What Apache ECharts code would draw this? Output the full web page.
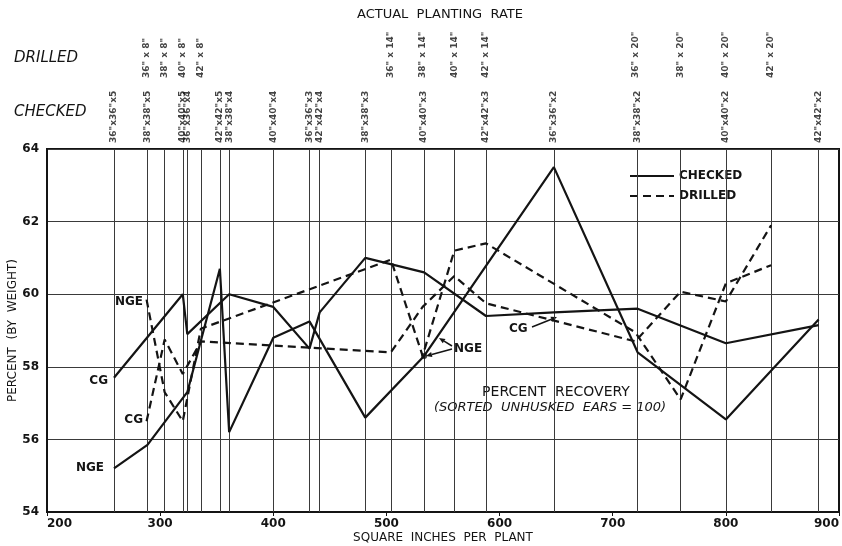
<!DOCTYPE html>
<html>
<head>
<meta charset="utf-8">
<script src="https://cdn.jsdelivr.net/npm/echarts@6/dist/echarts.min.js"></script>
<style>
html,body{margin:0;padding:0;background:#fff;}
#chart{width:842px;height:546px;}
</style>
</head>
<body>
<div id="chart"></div>
<script>
// Planting rates (square inches per plant) and their labels
const checkedX = [259.2, 288.8, 320, 324, 352.8, 361, 400, 432, 441, 481.3, 533.3, 588, 648, 722, 800, 882];
const checkedLabels = ['36"x36"x5','38"x38"x5','40"x40"x5','36"x36"x4','42"x42"x5','38"x38"x4','40"x40"x4','36"x36"x3','42"x42"x4','38"x38"x3','40"x40"x3','42"x42"x3','36"x36"x2','38"x38"x2','40"x40"x2','42"x42"x2'];
const drilledX = [288, 304, 320, 336, 504, 532, 560, 588, 720, 760, 800, 840];
const drilledLabels = ['36" x 8"','38" x 8"','40" x 8"','42" x 8"','36" x 14"','38" x 14"','40" x 14"','42" x 14"','36" x 20"','38" x 20"','40" x 20"','42" x 20"'];

// Percent recovery series
const checkedNGEx = [259.2, 288.8, 324, 352.8, 361, 400, 432, 481.3, 533.3, 648, 722, 800, 882];
const checkedNGEy = [55.2, 55.85, 57.3, 60.7, 56.2, 58.8, 59.25, 56.6, 58.3, 63.5, 58.4, 56.55, 59.3];
const checkedCGx = [259.2, 320, 324, 361, 400, 432, 441, 481.3, 533.3, 588, 648, 722, 800, 882];
const checkedCGy = [57.7, 60.0, 58.9, 60.0, 59.65, 58.5, 59.5, 61.0, 60.6, 59.4, 59.5, 59.6, 58.65, 59.15];
const drilledNGEx = [288, 304, 320, 336, 504, 532, 560, 588, 720, 760, 800, 840];
const drilledNGEy = [59.85, 57.3, 56.5, 59.05, 60.95, 58.3, 61.2, 61.4, 58.95, 57.1, 60.3, 60.8];
const drilledCGx = [288, 304, 320, 336, 504, 532, 560, 588, 720, 760, 800, 840];
const drilledCGy = [56.5, 58.75, 57.8, 58.7, 58.4, 59.65, 60.5, 59.75, 58.7, 60.07, 59.8, 61.9];
const markedPoint = [[533.3, 58.3]];

const xTicks = [200, 900, 100];
const yTicks = [54, 64, 2];

const FONT = 'DejaVu Sans';
const INK = '#141414';

function pairs(xs, ys){ return xs.map((x,i)=>[x, ys[i]]); }

// vertical grid lines at each planting rate (drilled ones merged with nearly coincident checked ones)
const gridX = checkedX.slice();
drilledX.forEach(v => { if (!checkedX.some(c => Math.abs(c - v) < 3)) gridX.push(v); });

const chart = echarts.init(document.getElementById('chart'), null, {renderer:'canvas'});

function arrow(x1,y1,x2,y2){
  const a = Math.atan2(y2-y1, x2-x1), L = 6, W = 2.6;
  const bx = x2 - L*Math.cos(a), by = y2 - L*Math.sin(a);
  const px = -Math.sin(a)*W, py = Math.cos(a)*W;
  return [
    {type:'line', shape:{x1:x1,y1:y1,x2:bx,y2:by}, style:{stroke:INK, lineWidth:1.5}},
    {type:'polygon', shape:{points:[[x2,y2],[bx+px,by+py],[bx-px,by-py]]}, style:{fill:INK}}
  ];
}

const txt = (x, y, t, opt) => Object.assign({type:'text', x:x, y:y, style:Object.assign({text:t, fill:INK, font:'bold 12px "'+FONT+'"', textAlign:'left', textVerticalAlign:'middle'}, opt||{})});

const graphics = [
  txt(440, 15, 'ACTUAL  PLANTING  RATE', {textAlign:'center', font:'13px "'+FONT+'"'}),
  txt(14, 58, 'DRILLED', {font:'italic 15px "'+FONT+'"'}),
  txt(14, 112, 'CHECKED', {font:'italic 15px "'+FONT+'"'}),
  txt(104, 468, 'NGE', {textAlign:'right'}),
  txt(108, 381, 'CG', {textAlign:'right'}),
  txt(143, 302, 'NGE', {textAlign:'right'}),
  txt(143, 420, 'CG', {textAlign:'right'}),
  txt(454, 349, 'NGE'),
  txt(509, 329, 'CG'),
  txt(556, 392, 'PERCENT  RECOVERY', {textAlign:'center', font:'14px "'+FONT+'"'}),
  txt(550, 408, '(SORTED  UNHUSKED  EARS = 100)', {textAlign:'center', font:'italic 13px "'+FONT+'"'})
].concat(arrow(452,349,426,356), arrow(452,346,439,338), arrow(532,327,557,317));

const lineBase = {type:'line', symbol:'none', z:5, clip:false, animation:false};

chart.setOption({
  animation:false,
  backgroundColor:'#fff',
  textStyle:{fontFamily:FONT},
  grid:{left:47, right:3, top:149, bottom:34, containLabel:false, outerBoundsMode:'none', show:true, borderColor:INK, borderWidth:2, backgroundColor:'transparent'},
  legend:{
    data:['CHECKED','DRILLED'], orient:'vertical', left:624, top:165,
    itemWidth:44, itemHeight:14, itemGap:8,
    itemStyle:{color:'transparent', borderWidth:0, opacity:0},
    textStyle:{fontFamily:FONT, fontWeight:'bold', fontSize:12, color:INK}
  },
  xAxis:{
    type:'value', min:xTicks[0], max:xTicks[1], interval:xTicks[2],
    name:'SQUARE  INCHES  PER  PLANT', nameLocation:'middle', nameGap:20, nameMoveOverlap:false,
    nameTextStyle:{fontFamily:FONT, fontSize:12, color:INK},
    axisLine:{show:true, lineStyle:{color:INK, width:2}},
    axisTick:{show:true, length:4, lineStyle:{color:INK}},
    axisLabel:{fontFamily:FONT, fontSize:12, fontWeight:'bold', color:INK, margin:6, alignMinLabel:'left', alignMaxLabel:'right'},
    splitLine:{show:false}
  },
  yAxis:{
    type:'value', min:yTicks[0], max:yTicks[1], interval:yTicks[2],
    name:'PERCENT  (BY  WEIGHT)', nameLocation:'middle', nameGap:28, nameRotate:90, nameMoveOverlap:false,
    nameTextStyle:{fontFamily:FONT, fontSize:12, color:INK},
    axisLine:{show:true, lineStyle:{color:INK, width:2}},
    axisTick:{show:false},
    axisLabel:{fontFamily:FONT, fontSize:12, fontWeight:'bold', color:INK, margin:8},
    splitLine:{show:true, lineStyle:{color:'#3a3a3a', width:1}}
  },
  graphic:graphics,
  series:[
    {
      type:'scatter', name:'checkedRates', symbolSize:0, silent:true, clip:false, z:2,
      data:checkedX.map((x,i)=>({value:[x, yTicks[1]], name:checkedLabels[i]})),
      label:{show:true, formatter:'{b}', position:'top', distance:6, rotate:90, align:'left', verticalAlign:'middle',
        fontFamily:FONT, fontSize:9, fontWeight:'bold', color:INK},
      markLine:{silent:true, symbol:'none', animation:false, label:{show:false},
        lineStyle:{color:'#3a3a3a', width:1, type:'solid'},
        data:gridX.map(v=>({xAxis:v}))}
    },
    {
      type:'scatter', name:'drilledRates', symbolSize:0, silent:true, clip:false, z:2,
      data:drilledX.map((x,i)=>({value:[x, yTicks[1]], name:drilledLabels[i]})),
      label:{show:true, formatter:'{b}', position:'top', distance:71, rotate:90, align:'left', verticalAlign:'middle',
        fontFamily:FONT, fontSize:9, fontWeight:'bold', color:INK}
    },
    Object.assign({}, lineBase, {name:'CHECKED', data:pairs(checkedNGEx, checkedNGEy), lineStyle:{color:INK, width:2.2, type:'solid'}, itemStyle:{color:INK}}),
    Object.assign({}, lineBase, {name:'CHECKED', data:pairs(checkedCGx, checkedCGy), lineStyle:{color:INK, width:2.2, type:'solid'}, itemStyle:{color:INK}}),
    Object.assign({}, lineBase, {name:'DRILLED', data:pairs(drilledNGEx, drilledNGEy), lineStyle:{color:INK, width:2.2, type:[8,5]}, itemStyle:{color:INK}}),
    Object.assign({}, lineBase, {name:'DRILLED', data:pairs(drilledCGx, drilledCGy), lineStyle:{color:INK, width:2.2, type:[8,5]}, itemStyle:{color:INK}}),
    {type:'scatter', name:'marked', data:markedPoint, symbol:'circle', symbolSize:6, itemStyle:{color:INK}, z:6, silent:true}
  ]
});
</script>
</body>
</html>
